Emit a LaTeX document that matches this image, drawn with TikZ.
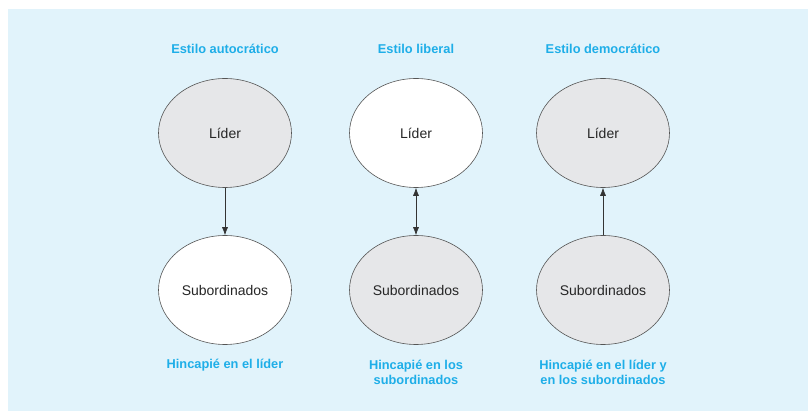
\documentclass[tikz,border=0pt]{standalone}
\usepackage{fontspec}
\setmainfont{Liberation Sans}
\usetikzlibrary{shapes.geometric,arrows.meta}
\definecolor{bgblue}{HTML}{E1F3FB}
\definecolor{ttlblue}{HTML}{1EAEE8}
\definecolor{ellgray}{HTML}{E6E7E9}
\definecolor{ellline}{HTML}{555555}
\begin{document}
\begin{tikzpicture}[x=1pt,y=-1pt,
  oval/.style={ellipse,draw=ellline,line width=0.6pt,minimum width=133pt,minimum height=109pt,inner sep=0pt,font=\fontsize{14}{16}\selectfont,text=black!85},
  grayoval/.style={oval,fill=ellgray},
  whiteoval/.style={oval,fill=white},
  ttl/.style={text=ttlblue,font=\bfseries\fontsize{12.8}{15}\selectfont,align=center},
  conn/.style={draw=black!80,line width=0.6pt,>={Latex[length=8pt,width=6pt]}}]
\useasboundingbox (0,0) rectangle (808,411);
\fill[white] (0,0) rectangle (808,411);
\fill[bgblue] (8,9) rectangle (808,411);
% titles
\node[ttl] (t1) at (225,49) {Estilo autocrático};
\node[ttl] (t2) at (416,49) {Estilo liberal};
\node[ttl] (t3) at (603,49) {Estilo democrático};
% ellipses
\node[grayoval] (l1) at (225,133) {Líder};
\node[whiteoval] (l2) at (416,133) {Líder};
\node[grayoval] (l3) at (603,133) {Líder};
\node[whiteoval] (s1) at (225,290) {Subordinados};
\node[grayoval] (s2) at (416,290) {Subordinados};
\node[grayoval] (s3) at (603,290) {Subordinados};
% connectors
\draw[conn,->] (l1) -- (s1);
\draw[conn,<->] (l2) -- (s2);
\draw[conn,->] (s3) -- (l3);
% bottom labels
\node[ttl] (b1) at (225,365) {Hincapié en el líder};
\node[ttl] (b2) at (416,372.5) {Hincapié en los\\subordinados};
\node[ttl] (b3) at (603,372.5) {Hincapié en el líder y\\en los subordinados};
\end{tikzpicture}
\end{document}
